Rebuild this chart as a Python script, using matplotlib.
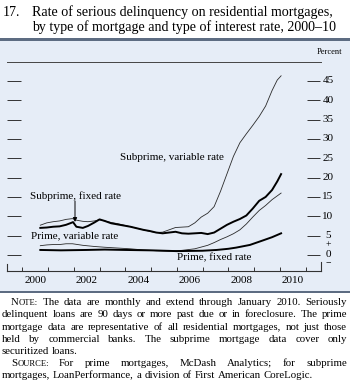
import matplotlib
matplotlib.use("Agg")
import matplotlib.pyplot as plt
import numpy as np
from matplotlib.patches import Rectangle

plt.rcParams['font.family'] = ['Liberation Serif', 'DejaVu Serif']

# ---------------- data ----------------
sub_fixed_yr = [2000.70, 2000.95, 2001.20, 2001.45, 2001.70, 2001.90, 2001.97, 2002.10, 2002.35,
                2002.55, 2002.80, 2003.00, 2003.20, 2003.45, 2003.70, 2003.95, 2004.20, 2004.45,
                2004.70, 2004.95, 2005.20, 2005.45, 2005.70, 2005.95, 2006.20, 2006.45, 2006.70,
                2006.95, 2007.20, 2007.45, 2007.70, 2007.95, 2008.20, 2008.45, 2008.70, 2008.95,
                2009.20, 2009.45, 2009.70, 2009.90, 2010.05]
sub_fixed = [7.0, 7.1, 7.3, 7.4, 7.8, 8.3, 8.5, 7.3, 7.0,
             7.5, 8.4, 9.2, 8.8, 8.2, 7.9, 7.6, 7.3, 6.9,
             6.5, 6.2, 5.8, 5.6, 5.8, 6.0, 5.6, 5.5, 5.6,
             5.7, 5.4, 5.8, 6.8, 7.8, 8.6, 9.3, 10.2, 12.0,
             14.0, 15.0, 16.8, 19.0, 20.9]

sub_var_yr = [2000.70, 2000.95, 2001.20, 2001.45, 2001.70, 2001.95, 2002.10, 2002.35, 2002.55,
              2002.80, 2003.00, 2003.20, 2003.45, 2003.70, 2003.95, 2004.20, 2004.45, 2004.70,
              2004.95, 2005.20, 2005.45, 2005.70, 2005.95, 2006.20, 2006.45, 2006.70, 2006.95,
              2007.20, 2007.45, 2007.70, 2007.95, 2008.20, 2008.45, 2008.70, 2008.95, 2009.20,
              2009.45, 2009.70, 2009.90, 2010.05]
sub_var = [7.7, 8.3, 8.6, 8.8, 9.2, 9.4, 9.0, 8.7, 8.6,
           8.8, 9.1, 8.8, 8.4, 8.1, 7.7, 7.3, 6.9, 6.5,
           6.1, 5.8, 5.9, 6.5, 7.1, 7.2, 7.3, 8.3, 9.8,
           10.8, 12.5, 16.5, 21.0, 25.5, 29.0, 31.3, 33.5, 35.8,
           38.5, 42.5, 45.2, 46.3]

prime_var_yr = [2000.70, 2000.95, 2001.20, 2001.45, 2001.70, 2001.95, 2002.35, 2002.80, 2003.20,
                2003.70, 2004.20, 2004.70, 2005.20, 2005.70, 2006.20, 2006.70, 2007.20, 2007.45,
                2007.70, 2007.95, 2008.20, 2008.45, 2008.70, 2008.95, 2009.20, 2009.45, 2009.70,
                2010.05]
prime_var = [2.4, 2.6, 2.7, 2.7, 2.9, 2.9, 2.5, 2.2, 2.0,
             1.8, 1.6, 1.3, 1.1, 1.0, 1.2, 1.6, 2.5, 3.2,
             4.0, 4.7, 5.5, 6.5, 8.0, 9.8, 11.5, 12.8, 14.3,
             16.0]

prime_fixed_yr = [2000.70, 2001.50, 2002.50, 2003.20, 2004.00, 2005.00, 2006.00, 2007.00, 2007.55,
                  2008.00, 2008.30, 2008.84, 2009.36, 2009.70, 2010.05]
prime_fixed = [1.3, 1.2, 1.3, 1.4, 1.3, 1.2, 1.0, 1.1, 1.3,
               1.6, 1.9, 2.6, 3.8, 4.6, 5.6]

y_ticks = [0, 5, 10, 15, 20, 25, 30, 35, 40, 45]
x_label_years = [2000, 2002, 2004, 2006, 2008, 2010]

title_num = "17."
title_lines = ["Rate of serious delinquency on residential mortgages,",
               "by type of mortgage and type of interest rate, 2000\u201310"]
series_labels = ["Subprime, variable rate", "Subprime, fixed rate",
                 "Prime, variable rate", "Prime, fixed rate"]
note_lines = [
    "NOTE: The data are monthly and extend through January 2010. Seriously",
    "delinquent loans are 90 days or more past due or in foreclosure. The prime",
    "mortgage data are representative of all residential mortgages, not just those",
    "held by commercial banks. The subprime mortgage data cover only",
    "securitized loans.",
    "SOURCE: For prime mortgages, McDash Analytics; for subprime",
    "mortgages, LoanPerformance, a division of First American CoreLogic.",
]

# ---------------- figure ----------------
W, H = 350, 386
fig = plt.figure(figsize=(W / 100, H / 100), dpi=100)


def fx(x):
    return x / W


def fy(y):
    return 1 - y / H


panel_color = '#E6EDF7'
bar_color = '#5D6C82'
fig.patches.append(Rectangle((0, fy(291)), 1, fy(41) - fy(291), transform=fig.transFigure,
                             facecolor=panel_color, edgecolor='none', zorder=-5))
fig.patches.append(Rectangle((0, fy(41)), 1, fy(38) - fy(41), transform=fig.transFigure,
                             facecolor=bar_color, edgecolor='none', zorder=-5))
fig.patches.append(Rectangle((0, fy(293)), 1, fy(291) - fy(293), transform=fig.transFigure,
                             facecolor=bar_color, edgecolor='none', zorder=-5))

# title
title_fs = 10.1
fig.text(fx(3), fy(16), title_num, fontsize=title_fs, va='baseline', ha='left')
fig.text(fx(32), fy(16), title_lines[0], fontsize=title_fs, va='baseline', ha='left')
fig.text(fx(32), fy(30.5), title_lines[1], fontsize=title_fs, va='baseline', ha='left')

ax = fig.add_axes([fx(7), fy(270.7), fx(321) - fx(7), fy(61.5) - fy(270.7)])
ax.patch.set_alpha(0)
ax.set_xlim(1999.406, 2011.6)
ax.set_ylim(-4.06, 50)

for s in ['left', 'right']:
    ax.spines[s].set_visible(False)
ax.spines['bottom'].set_linewidth(0.8)
ax.spines['bottom'].set_color('#333333')
ax.spines['top'].set_linewidth(0.7)
ax.spines['top'].set_color('#444444')

# y tick dashes
ytr = ax.get_yaxis_transform()
ax.hlines(y_ticks, 0, 14 / 314, transform=ytr, color='#333333', lw=0.7)
ax.hlines(y_ticks, 300 / 314, 313 / 314, transform=ytr, color='#333333', lw=0.7)
ax.set_yticks([])
for v in y_ticks:
    ax.text(1.022, v, str(v), transform=ytr, ha='center', va='center', fontsize=8)
ax.text(1.022, 2.6, '+', transform=ytr, ha='center', va='center', fontsize=7)
ax.text(1.022, -2.2, '\u2212', transform=ytr, ha='center', va='center', fontsize=7)

# x ticks
ax.set_xticks(np.arange(2000, 2012, 1))
ax.tick_params(axis='x', which='major', direction='in', length=3.2, width=0.7,
               color='#333333', labelbottom=False)
ax.set_xticks([y + 0.5 for y in x_label_years], minor=True)
ax.set_xticklabels([str(y) for y in x_label_years], minor=True, fontsize=8)
ax.tick_params(axis='x', which='minor', length=0, pad=4)
xtr = ax.get_xaxis_transform()
ax.plot([1999.406, 1999.406], [0, 7 / 209], transform=xtr, color='#333333', lw=0.8, clip_on=False)
ax.plot([2011.6, 2011.6], [0, 9 / 209], transform=xtr, color='#333333', lw=0.8, clip_on=False)

# series
ax.plot(sub_var_yr, sub_var, color='#2a2a2a', lw=0.6)
ax.plot(prime_var_yr, prime_var, color='#2a2a2a', lw=0.6)
ax.plot(sub_fixed_yr, sub_fixed, color='black', lw=1.4)
ax.plot(prime_fixed_yr, prime_fixed, color='black', lw=1.4)

lab_fs = 8.0
fig.text(fx(120), fy(158), series_labels[0], fontsize=lab_fs, va='center', ha='left')
fig.text(fx(30), fy(196.5), series_labels[1], fontsize=lab_fs, va='center', ha='left')
fig.text(fx(31), fy(235.5), series_labels[2], fontsize=lab_fs, va='center', ha='left')
fig.text(fx(177), fy(257.5), series_labels[3], fontsize=lab_fs, va='center', ha='left')
ax.annotate('', xy=(fx(75), fy(222)), xytext=(fx(75), fy(201)),
            xycoords='figure fraction', textcoords='figure fraction',
            arrowprops=dict(arrowstyle='-|>', lw=0.7, color='black', mutation_scale=6,
                            shrinkA=0, shrinkB=0))

fig.text(fx(342), fy(52), 'Percent', fontsize=6, ha='right', va='center')

# ---------------- justified note text ----------------
renderer = fig.canvas.get_renderer()
note_fs = 7.8
sc_ratio = 0.78


def make_segments(word):
    if word in ('NOTE:', 'SOURCE:'):
        return [(word[0], note_fs), (word[1:], note_fs * sc_ratio)]
    return [(word, note_fs)]


def width_of(s, size):
    t1 = fig.text(0, 0, 'x' + s + 'x', fontsize=size)
    t2 = fig.text(0, 0, 'xx', fontsize=size)
    w = t1.get_window_extent(renderer).width - t2.get_window_extent(renderer).width
    t1.remove()
    t2.remove()
    return w


space_w = width_of(' ', note_fs)

left_px, right_px, indent_px = 2.0, 347.0, 9.0
justify = [True, True, True, True, False, True, False]
indent = [True, False, False, False, False, True, False]
baselines = [305.0, 317.3, 329.5, 341.7, 353.9, 366.1, 378.3]

for line, just, ind, yb in zip(note_lines, justify, indent, baselines):
    words = line.split(' ')
    segs = [make_segments(w) for w in words]
    wws = [[width_of(s, sz) for s, sz in sg] for sg in segs]
    tot = sum(sum(w) for w in wws)
    x0 = left_px + (indent_px if ind else 0)
    if just and len(words) > 1:
        gap = (right_px - x0 - tot) / (len(words) - 1)
    else:
        gap = space_w
    x = x0
    for sg, ww in zip(segs, wws):
        for (s, sz), w in zip(sg, ww):
            fig.text(fx(x), fy(yb), s, fontsize=sz, va='baseline', ha='left')
            x += w
        x += gap

fig.savefig('out.png', dpi=100)
